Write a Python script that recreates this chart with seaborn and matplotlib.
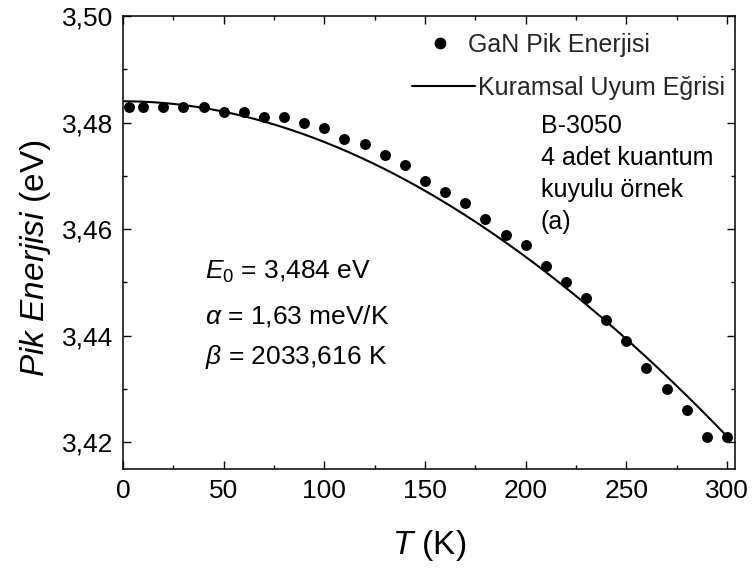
import numpy as np
import pandas as pd
import matplotlib
matplotlib.use("Agg")
import matplotlib.pyplot as plt
from matplotlib.ticker import MultipleLocator, FuncFormatter
from matplotlib.lines import Line2D
import seaborn as sns

# Measured GaN peak energies
temperature_K = [3, 10, 20, 30, 40, 50, 60, 70, 80, 90, 100, 110, 120, 130, 140,
                 150, 160, 170, 180, 190, 200, 210, 220, 230, 240, 250, 260, 270,
                 280, 290, 300]
peak_energy_eV = [3.483, 3.483, 3.483, 3.483, 3.483, 3.482, 3.482, 3.481, 3.481,
                  3.480, 3.479, 3.477, 3.476, 3.474, 3.472, 3.469, 3.467, 3.465,
                  3.462, 3.459, 3.457, 3.453, 3.450, 3.447, 3.443, 3.439, 3.434,
                  3.430, 3.426, 3.421, 3.421]

# Varshni fit parameters
E0_eV = 3.484
alpha_eV_per_K = 1.63e-3
beta_K = 2033.616

x_ticks = [0, 50, 100, 150, 200, 250, 300]
y_ticks = [3.42, 3.44, 3.46, 3.48, 3.50]

sns.set_theme(style="ticks")
plt.rcParams["font.family"] = ["Liberation Sans", "DejaVu Sans"]
plt.rcParams["mathtext.fontset"] = "custom"
plt.rcParams["mathtext.rm"] = "Liberation Sans"
plt.rcParams["mathtext.it"] = "Liberation Sans:italic"
plt.rcParams["mathtext.bf"] = "Liberation Sans:bold"

data = pd.DataFrame({"T": temperature_K, "E": peak_energy_eV})
t_fit = np.linspace(0, 300, 301)
fit = pd.DataFrame({"T": t_fit,
                    "E": E0_eV - alpha_eV_per_K * t_fit ** 2 / (t_fit + beta_K)})

W, H = 753, 570
fig = plt.figure(figsize=(W / 100, H / 100), dpi=100)
ax = fig.add_axes([123 / W, 1 - 469 / H, (735 - 123) / W, (469 - 16) / H])

sns.lineplot(data=fit, x="T", y="E", ax=ax, color="black", linewidth=1.5,
             legend=False)
sns.scatterplot(data=data, x="T", y="E", ax=ax, color="black", s=62,
                edgecolor="black", linewidth=0, legend=False, zorder=3)

ax.set_xlim(0, 304)
ax.set_ylim(3.415, 3.50)
ax.set_xticks(x_ticks)
ax.set_yticks(y_ticks)
ax.xaxis.set_minor_locator(MultipleLocator(25))
ax.yaxis.set_minor_locator(MultipleLocator(0.01))
ax.xaxis.set_major_formatter(FuncFormatter(lambda v, p: f"{v:.0f}"))
ax.yaxis.set_major_formatter(FuncFormatter(lambda v, p: f"{v:.2f}".replace(".", ",")))

for side in ["top", "right", "bottom", "left"]:
    ax.spines[side].set_visible(True)
    ax.spines[side].set_linewidth(1.1)
    ax.spines[side].set_color("black")
ax.tick_params(which="both", direction="in", top=True, right=True,
               color="black", width=1.0, labelsize=19, labelcolor="black", pad=7)
ax.tick_params(which="major", length=6)
ax.tick_params(which="minor", length=3)

ax.set_xlabel("$T$ (K)", fontsize=24, color="black", labelpad=18)
ax.set_ylabel(r"$\mathit{Pik\ Enerjisi}$ (eV)", fontsize=24, color="black")
ax.yaxis.set_label_coords(-0.115, (469 - 258) / 453)

# Legend entries, placed as two separate blocks
dot_handle = Line2D([], [], linestyle="none", marker="o", color="black",
                    markersize=7.5)
line_handle = Line2D([], [], color="black", linewidth=1.5)
leg1 = ax.legend([dot_handle], ["GaN Pik Enerjisi"], loc="center left",
                 bbox_to_anchor=((431 - 123) / 612, (469 - 45) / 453),
                 frameon=False, fontsize=18, handlelength=0.7,
                 handletextpad=0.8, borderpad=0, borderaxespad=0)
ax.add_artist(leg1)
ax.legend([line_handle], ["Kuramsal Uyum Eğrisi"], loc="center left",
          bbox_to_anchor=((412 - 123) / 612, (469 - 88) / 453),
          frameon=False, fontsize=18, handlelength=2.5,
          handletextpad=0.12, borderpad=0, borderaxespad=0)

sample_lines = ["B-3050", "4 adet kuantum", "kuyulu örnek", "(a)"]
for i, line in enumerate(sample_lines):
    ax.text(541, H - (126 + 32 * i), line, transform=None, fontsize=18,
            ha="left", va="center", color="black")

param_lines = [r"$E_0$ = 3,484 eV", r"$\alpha$ = 1,63 meV/K",
               r"$\beta$ = 2033,616 K"]
for text, ypix in zip(param_lines, [272, 316, 357]):
    ax.text(205, H - ypix, text, transform=None, fontsize=19,
            ha="left", va="center", color="black")

fig.savefig("out.png", dpi=100)
